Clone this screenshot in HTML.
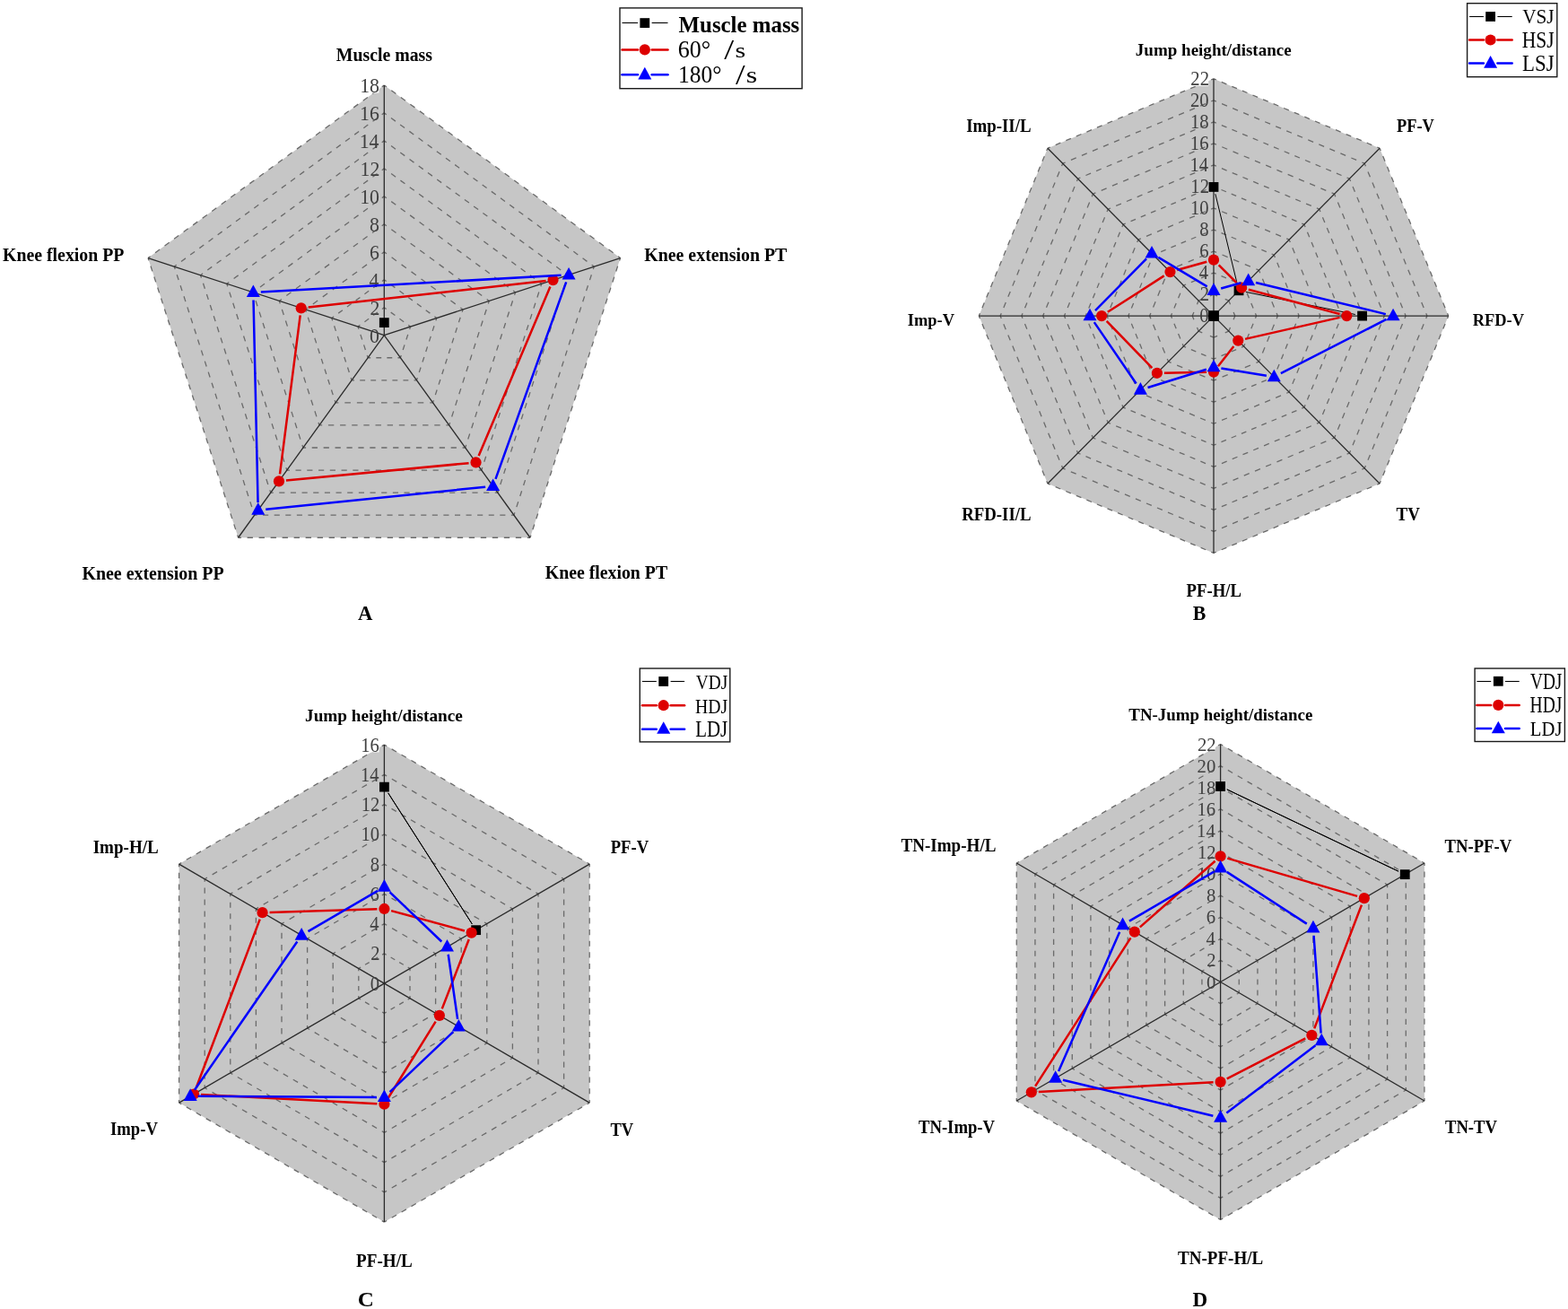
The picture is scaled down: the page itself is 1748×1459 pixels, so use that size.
<!DOCTYPE html>
<html><head><meta charset="utf-8"><title>Radar charts</title>
<style>
html,body{margin:0;padding:0;background:#fff;}
body{width:1748px;height:1459px;overflow:hidden;}
svg{display:block;}
.t{font-family:"Liberation Serif","Times New Roman",serif;fill:#404040;}
.lb{font-family:"Liberation Serif","Times New Roman",serif;font-weight:bold;fill:#000;}
.lr{font-family:"Liberation Serif","Times New Roman",serif;fill:#000;}
</style></head>
<body>
<svg width="1748" height="1459" viewBox="0 0 1748 1459">
<rect width="1748" height="1459" fill="#fff"/>
<polygon points="428.3,94.9 691.55,287.55 591,599.25 265.6,599.25 165.05,287.55" fill="#c6c6c6"/>
<path d="M428.3 342.72L457.55 364.13" fill="none" stroke="#6a6a6a" stroke-width="1.3" stroke-dasharray="5.86 6.22" stroke-dashoffset="2.93"/>
<path d="M457.55 364.13L446.38 398.76" fill="none" stroke="#6a6a6a" stroke-width="1.3" stroke-dasharray="5.88 6.25" stroke-dashoffset="2.94"/>
<path d="M446.38 398.76L410.22 398.76" fill="none" stroke="#6a6a6a" stroke-width="1.3" stroke-dasharray="5.85 6.21" stroke-dashoffset="2.92"/>
<path d="M410.22 398.76L399.05 364.13" fill="none" stroke="#6a6a6a" stroke-width="1.3" stroke-dasharray="5.88 6.25" stroke-dashoffset="2.94"/>
<path d="M399.05 364.13L428.3 342.72" fill="none" stroke="#6a6a6a" stroke-width="1.3" stroke-dasharray="5.86 6.22" stroke-dashoffset="2.93"/>
<path d="M428.3 311.74L486.8 354.55" fill="none" stroke="#6a6a6a" stroke-width="1.3" stroke-dasharray="5.86 6.22" stroke-dashoffset="2.93"/>
<path d="M486.8 354.55L464.46 423.82" fill="none" stroke="#6a6a6a" stroke-width="1.3" stroke-dasharray="5.88 6.25" stroke-dashoffset="2.94"/>
<path d="M464.46 423.82L392.14 423.82" fill="none" stroke="#6a6a6a" stroke-width="1.3" stroke-dasharray="5.85 6.21" stroke-dashoffset="2.92"/>
<path d="M392.14 423.82L369.8 354.55" fill="none" stroke="#6a6a6a" stroke-width="1.3" stroke-dasharray="5.88 6.25" stroke-dashoffset="2.94"/>
<path d="M369.8 354.55L428.3 311.74" fill="none" stroke="#6a6a6a" stroke-width="1.3" stroke-dasharray="5.86 6.22" stroke-dashoffset="2.93"/>
<path d="M428.3 280.77L516.05 344.98" fill="none" stroke="#6a6a6a" stroke-width="1.3" stroke-dasharray="6.59 7.00" stroke-dashoffset="3.30"/>
<path d="M516.05 344.98L482.53 448.88" fill="none" stroke="#6a6a6a" stroke-width="1.3" stroke-dasharray="5.88 6.25" stroke-dashoffset="2.94"/>
<path d="M482.53 448.88L374.07 448.88" fill="none" stroke="#6a6a6a" stroke-width="1.3" stroke-dasharray="6.58 6.98" stroke-dashoffset="3.29"/>
<path d="M374.07 448.88L340.55 344.98" fill="none" stroke="#6a6a6a" stroke-width="1.3" stroke-dasharray="5.88 6.25" stroke-dashoffset="2.94"/>
<path d="M340.55 344.98L428.3 280.77" fill="none" stroke="#6a6a6a" stroke-width="1.3" stroke-dasharray="6.59 7.00" stroke-dashoffset="3.30"/>
<path d="M428.3 249.79L545.3 335.41" fill="none" stroke="#6a6a6a" stroke-width="1.3" stroke-dasharray="6.39 6.79" stroke-dashoffset="3.20"/>
<path d="M545.3 335.41L500.61 473.95" fill="none" stroke="#6a6a6a" stroke-width="1.3" stroke-dasharray="6.42 6.82" stroke-dashoffset="3.21"/>
<path d="M500.61 473.95L355.99 473.95" fill="none" stroke="#6a6a6a" stroke-width="1.3" stroke-dasharray="6.38 6.77" stroke-dashoffset="3.19"/>
<path d="M355.99 473.95L311.3 335.41" fill="none" stroke="#6a6a6a" stroke-width="1.3" stroke-dasharray="6.42 6.82" stroke-dashoffset="3.21"/>
<path d="M311.3 335.41L428.3 249.79" fill="none" stroke="#6a6a6a" stroke-width="1.3" stroke-dasharray="6.39 6.79" stroke-dashoffset="3.20"/>
<path d="M428.3 218.81L574.55 325.84" fill="none" stroke="#6a6a6a" stroke-width="1.3" stroke-dasharray="6.28 6.67" stroke-dashoffset="3.14"/>
<path d="M574.55 325.84L518.69 499.01" fill="none" stroke="#6a6a6a" stroke-width="1.3" stroke-dasharray="6.30 6.69" stroke-dashoffset="3.15"/>
<path d="M518.69 499.01L337.91 499.01" fill="none" stroke="#6a6a6a" stroke-width="1.3" stroke-dasharray="6.26 6.65" stroke-dashoffset="3.13"/>
<path d="M337.91 499.01L282.05 325.84" fill="none" stroke="#6a6a6a" stroke-width="1.3" stroke-dasharray="6.30 6.69" stroke-dashoffset="3.15"/>
<path d="M282.05 325.84L428.3 218.81" fill="none" stroke="#6a6a6a" stroke-width="1.3" stroke-dasharray="6.28 6.67" stroke-dashoffset="3.14"/>
<path d="M428.3 187.83L603.8 316.26" fill="none" stroke="#6a6a6a" stroke-width="1.3" stroke-dasharray="6.20 6.59" stroke-dashoffset="3.10"/>
<path d="M603.8 316.26L536.77 524.07" fill="none" stroke="#6a6a6a" stroke-width="1.3" stroke-dasharray="6.23 6.61" stroke-dashoffset="3.11"/>
<path d="M536.77 524.07L319.83 524.07" fill="none" stroke="#6a6a6a" stroke-width="1.3" stroke-dasharray="6.19 6.57" stroke-dashoffset="3.09"/>
<path d="M319.83 524.07L252.8 316.26" fill="none" stroke="#6a6a6a" stroke-width="1.3" stroke-dasharray="6.23 6.61" stroke-dashoffset="3.11"/>
<path d="M252.8 316.26L428.3 187.83" fill="none" stroke="#6a6a6a" stroke-width="1.3" stroke-dasharray="6.20 6.59" stroke-dashoffset="3.10"/>
<path d="M428.3 156.86L633.05 306.69" fill="none" stroke="#6a6a6a" stroke-width="1.3" stroke-dasharray="6.15 6.53" stroke-dashoffset="3.08"/>
<path d="M633.05 306.69L554.84 549.13" fill="none" stroke="#6a6a6a" stroke-width="1.3" stroke-dasharray="6.18 6.56" stroke-dashoffset="3.09"/>
<path d="M554.84 549.13L301.76 549.13" fill="none" stroke="#6a6a6a" stroke-width="1.3" stroke-dasharray="6.14 6.52" stroke-dashoffset="3.07"/>
<path d="M301.76 549.13L223.55 306.69" fill="none" stroke="#6a6a6a" stroke-width="1.3" stroke-dasharray="6.18 6.56" stroke-dashoffset="3.09"/>
<path d="M223.55 306.69L428.3 156.86" fill="none" stroke="#6a6a6a" stroke-width="1.3" stroke-dasharray="6.15 6.53" stroke-dashoffset="3.08"/>
<path d="M428.3 125.88L662.3 297.12" fill="none" stroke="#6a6a6a" stroke-width="1.3" stroke-dasharray="6.11 6.49" stroke-dashoffset="3.06"/>
<path d="M662.3 297.12L572.92 574.19" fill="none" stroke="#6a6a6a" stroke-width="1.3" stroke-dasharray="6.14 6.52" stroke-dashoffset="3.07"/>
<path d="M572.92 574.19L283.68 574.19" fill="none" stroke="#6a6a6a" stroke-width="1.3" stroke-dasharray="6.10 6.48" stroke-dashoffset="3.05"/>
<path d="M283.68 574.19L194.3 297.12" fill="none" stroke="#6a6a6a" stroke-width="1.3" stroke-dasharray="6.14 6.52" stroke-dashoffset="3.07"/>
<path d="M194.3 297.12L428.3 125.88" fill="none" stroke="#6a6a6a" stroke-width="1.3" stroke-dasharray="6.11 6.49" stroke-dashoffset="3.06"/>
<path d="M428.3 94.9L691.55 287.55" fill="none" stroke="#6a6a6a" stroke-width="1.3" stroke-dasharray="6.33 6.72" stroke-dashoffset="3.16"/>
<path d="M691.55 287.55L591 599.25" fill="none" stroke="#6a6a6a" stroke-width="1.3" stroke-dasharray="6.11 6.49" stroke-dashoffset="3.05"/>
<path d="M591 599.25L265.6 599.25" fill="none" stroke="#6a6a6a" stroke-width="1.3" stroke-dasharray="6.31 6.70" stroke-dashoffset="3.16"/>
<path d="M265.6 599.25L165.05 287.55" fill="none" stroke="#6a6a6a" stroke-width="1.3" stroke-dasharray="6.11 6.49" stroke-dashoffset="3.05"/>
<path d="M165.05 287.55L428.3 94.9" fill="none" stroke="#6a6a6a" stroke-width="1.3" stroke-dasharray="6.33 6.72" stroke-dashoffset="3.16"/>
<rect x="401.57" y="85.83" width="20.93" height="17.73" fill="#fff"/>
<line x1="428.3" y1="373.7" x2="428.3" y2="94.9" stroke="#2a2a2a" stroke-width="1.3"/>
<line x1="428.3" y1="373.7" x2="691.55" y2="287.55" stroke="#2a2a2a" stroke-width="1.3"/>
<line x1="428.3" y1="373.7" x2="591" y2="599.25" stroke="#2a2a2a" stroke-width="1.3"/>
<line x1="428.3" y1="373.7" x2="265.6" y2="599.25" stroke="#2a2a2a" stroke-width="1.3"/>
<line x1="428.3" y1="373.7" x2="165.05" y2="287.55" stroke="#2a2a2a" stroke-width="1.3"/>
<text transform="translate(412.09 381.53) scale(0.915 1)" class="t" font-size="23.9">0</text>
<text transform="translate(412.47 350.55) scale(0.915 1)" class="t" font-size="23.9">2</text>
<text transform="translate(411.59 319.57) scale(0.915 1)" class="t" font-size="23.9">4</text>
<text transform="translate(411.92 288.59) scale(0.915 1)" class="t" font-size="23.9">6</text>
<text transform="translate(412.09 257.62) scale(0.915 1)" class="t" font-size="23.9">8</text>
<text transform="translate(401.15 226.64) scale(0.915 1)" class="t" font-size="23.9">10</text>
<text transform="translate(401.53 195.66) scale(0.915 1)" class="t" font-size="23.9">12</text>
<text transform="translate(400.66 164.68) scale(0.915 1)" class="t" font-size="23.9">14</text>
<text transform="translate(400.99 133.71) scale(0.915 1)" class="t" font-size="23.9">16</text>
<text transform="translate(401.15 102.73) scale(0.915 1)" class="t" font-size="23.9">18</text>
<rect x="422.9" y="354.21" width="10.8" height="10.8" fill="#000"/>
<path d="M613.41 319.47L533.65 508.05M522.57 516.18L318.94 535.59M311.99 528.41L334.71 351.34M343.67 342.52L608.57 312.99" fill="none" stroke="#dd0000" stroke-width="2.5" stroke-linejoin="round"/>
<circle cx="616.53" cy="312.1" r="6.1" fill="#dd0000"/>
<circle cx="530.53" cy="515.42" r="6.1" fill="#dd0000"/>
<circle cx="310.98" cy="536.35" r="6.1" fill="#dd0000"/>
<circle cx="335.72" cy="343.4" r="6.1" fill="#dd0000"/>
<path d="M631.21 314.36L552.47 533.86M541.14 542.72L296.2 567.69M287.56 560.06L282.53 334.43M290.83 325.46L625.59 306.83" fill="none" stroke="#0000ff" stroke-width="2.5" stroke-linejoin="round"/>
<path d="M634.08 297.92L641.58 311.52L626.58 311.52Z" fill="#0000ff"/>
<path d="M549.6 533.43L557.1 547.03L542.1 547.03Z" fill="#0000ff"/>
<path d="M287.75 560.12L295.25 573.72L280.25 573.72Z" fill="#0000ff"/>
<path d="M282.34 317.5L289.84 331.1L274.84 331.1Z" fill="#0000ff"/>
<polygon points="1353,87.8 1538.05,165.21 1614.7,352.1 1538.05,538.99 1353,616.4 1167.95,538.99 1091.3,352.1 1167.95,165.21" fill="#c6c6c6"/>
<path d="M1353 328.07L1369.82 335.11" fill="none" stroke="#6a6a6a" stroke-width="1.3" stroke-dasharray="8.84 9.39" stroke-dashoffset="4.42"/>
<path d="M1369.82 335.11L1376.79 352.1" fill="none" stroke="#6a6a6a" stroke-width="1.3" stroke-dasharray="8.91 9.46" stroke-dashoffset="4.45"/>
<path d="M1376.79 352.1L1369.82 369.09" fill="none" stroke="#6a6a6a" stroke-width="1.3" stroke-dasharray="8.91 9.46" stroke-dashoffset="4.45"/>
<path d="M1369.82 369.09L1353 376.13" fill="none" stroke="#6a6a6a" stroke-width="1.3" stroke-dasharray="8.84 9.39" stroke-dashoffset="4.42"/>
<path d="M1353 376.13L1336.18 369.09" fill="none" stroke="#6a6a6a" stroke-width="1.3" stroke-dasharray="8.84 9.39" stroke-dashoffset="4.42"/>
<path d="M1336.18 369.09L1329.21 352.1" fill="none" stroke="#6a6a6a" stroke-width="1.3" stroke-dasharray="8.91 9.46" stroke-dashoffset="4.45"/>
<path d="M1329.21 352.1L1336.18 335.11" fill="none" stroke="#6a6a6a" stroke-width="1.3" stroke-dasharray="8.91 9.46" stroke-dashoffset="4.45"/>
<path d="M1336.18 335.11L1353 328.07" fill="none" stroke="#6a6a6a" stroke-width="1.3" stroke-dasharray="8.84 9.39" stroke-dashoffset="4.42"/>
<path d="M1353 304.05L1386.65 318.12" fill="none" stroke="#6a6a6a" stroke-width="1.3" stroke-dasharray="5.90 6.26" stroke-dashoffset="2.95"/>
<path d="M1386.65 318.12L1400.58 352.1" fill="none" stroke="#6a6a6a" stroke-width="1.3" stroke-dasharray="5.94 6.30" stroke-dashoffset="2.97"/>
<path d="M1400.58 352.1L1386.65 386.08" fill="none" stroke="#6a6a6a" stroke-width="1.3" stroke-dasharray="5.94 6.30" stroke-dashoffset="2.97"/>
<path d="M1386.65 386.08L1353 400.15" fill="none" stroke="#6a6a6a" stroke-width="1.3" stroke-dasharray="5.90 6.26" stroke-dashoffset="2.95"/>
<path d="M1353 400.15L1319.35 386.08" fill="none" stroke="#6a6a6a" stroke-width="1.3" stroke-dasharray="5.90 6.26" stroke-dashoffset="2.95"/>
<path d="M1319.35 386.08L1305.42 352.1" fill="none" stroke="#6a6a6a" stroke-width="1.3" stroke-dasharray="5.94 6.30" stroke-dashoffset="2.97"/>
<path d="M1305.42 352.1L1319.35 318.12" fill="none" stroke="#6a6a6a" stroke-width="1.3" stroke-dasharray="5.94 6.30" stroke-dashoffset="2.97"/>
<path d="M1319.35 318.12L1353 304.05" fill="none" stroke="#6a6a6a" stroke-width="1.3" stroke-dasharray="5.90 6.26" stroke-dashoffset="2.95"/>
<path d="M1353 280.02L1403.47 301.13" fill="none" stroke="#6a6a6a" stroke-width="1.3" stroke-dasharray="6.63 7.04" stroke-dashoffset="3.32"/>
<path d="M1403.47 301.13L1424.37 352.1" fill="none" stroke="#6a6a6a" stroke-width="1.3" stroke-dasharray="6.68 7.09" stroke-dashoffset="3.34"/>
<path d="M1424.37 352.1L1403.47 403.07" fill="none" stroke="#6a6a6a" stroke-width="1.3" stroke-dasharray="6.68 7.09" stroke-dashoffset="3.34"/>
<path d="M1403.47 403.07L1353 424.18" fill="none" stroke="#6a6a6a" stroke-width="1.3" stroke-dasharray="6.63 7.04" stroke-dashoffset="3.32"/>
<path d="M1353 424.18L1302.53 403.07" fill="none" stroke="#6a6a6a" stroke-width="1.3" stroke-dasharray="6.63 7.04" stroke-dashoffset="3.32"/>
<path d="M1302.53 403.07L1281.63 352.1" fill="none" stroke="#6a6a6a" stroke-width="1.3" stroke-dasharray="6.68 7.09" stroke-dashoffset="3.34"/>
<path d="M1281.63 352.1L1302.53 301.13" fill="none" stroke="#6a6a6a" stroke-width="1.3" stroke-dasharray="6.68 7.09" stroke-dashoffset="3.34"/>
<path d="M1302.53 301.13L1353 280.02" fill="none" stroke="#6a6a6a" stroke-width="1.3" stroke-dasharray="6.63 7.04" stroke-dashoffset="3.32"/>
<path d="M1353 255.99L1420.29 284.14" fill="none" stroke="#6a6a6a" stroke-width="1.3" stroke-dasharray="5.90 6.26" stroke-dashoffset="2.95"/>
<path d="M1420.29 284.14L1448.16 352.1" fill="none" stroke="#6a6a6a" stroke-width="1.3" stroke-dasharray="5.94 6.30" stroke-dashoffset="2.97"/>
<path d="M1448.16 352.1L1420.29 420.06" fill="none" stroke="#6a6a6a" stroke-width="1.3" stroke-dasharray="5.94 6.30" stroke-dashoffset="2.97"/>
<path d="M1420.29 420.06L1353 448.21" fill="none" stroke="#6a6a6a" stroke-width="1.3" stroke-dasharray="5.90 6.26" stroke-dashoffset="2.95"/>
<path d="M1353 448.21L1285.71 420.06" fill="none" stroke="#6a6a6a" stroke-width="1.3" stroke-dasharray="5.90 6.26" stroke-dashoffset="2.95"/>
<path d="M1285.71 420.06L1257.84 352.1" fill="none" stroke="#6a6a6a" stroke-width="1.3" stroke-dasharray="5.94 6.30" stroke-dashoffset="2.97"/>
<path d="M1257.84 352.1L1285.71 284.14" fill="none" stroke="#6a6a6a" stroke-width="1.3" stroke-dasharray="5.94 6.30" stroke-dashoffset="2.97"/>
<path d="M1285.71 284.14L1353 255.99" fill="none" stroke="#6a6a6a" stroke-width="1.3" stroke-dasharray="5.90 6.26" stroke-dashoffset="2.95"/>
<path d="M1353 231.96L1437.11 267.15" fill="none" stroke="#6a6a6a" stroke-width="1.3" stroke-dasharray="6.32 6.71" stroke-dashoffset="3.16"/>
<path d="M1437.11 267.15L1471.95 352.1" fill="none" stroke="#6a6a6a" stroke-width="1.3" stroke-dasharray="6.36 6.76" stroke-dashoffset="3.18"/>
<path d="M1471.95 352.1L1437.11 437.05" fill="none" stroke="#6a6a6a" stroke-width="1.3" stroke-dasharray="6.36 6.76" stroke-dashoffset="3.18"/>
<path d="M1437.11 437.05L1353 472.24" fill="none" stroke="#6a6a6a" stroke-width="1.3" stroke-dasharray="6.32 6.71" stroke-dashoffset="3.16"/>
<path d="M1353 472.24L1268.89 437.05" fill="none" stroke="#6a6a6a" stroke-width="1.3" stroke-dasharray="6.32 6.71" stroke-dashoffset="3.16"/>
<path d="M1268.89 437.05L1234.05 352.1" fill="none" stroke="#6a6a6a" stroke-width="1.3" stroke-dasharray="6.36 6.76" stroke-dashoffset="3.18"/>
<path d="M1234.05 352.1L1268.89 267.15" fill="none" stroke="#6a6a6a" stroke-width="1.3" stroke-dasharray="6.36 6.76" stroke-dashoffset="3.18"/>
<path d="M1268.89 267.15L1353 231.96" fill="none" stroke="#6a6a6a" stroke-width="1.3" stroke-dasharray="6.32 6.71" stroke-dashoffset="3.16"/>
<path d="M1353 207.94L1453.94 250.16" fill="none" stroke="#6a6a6a" stroke-width="1.3" stroke-dasharray="5.90 6.26" stroke-dashoffset="2.95"/>
<path d="M1453.94 250.16L1495.75 352.1" fill="none" stroke="#6a6a6a" stroke-width="1.3" stroke-dasharray="5.94 6.30" stroke-dashoffset="2.97"/>
<path d="M1495.75 352.1L1453.94 454.04" fill="none" stroke="#6a6a6a" stroke-width="1.3" stroke-dasharray="5.94 6.30" stroke-dashoffset="2.97"/>
<path d="M1453.94 454.04L1353 496.26" fill="none" stroke="#6a6a6a" stroke-width="1.3" stroke-dasharray="5.90 6.26" stroke-dashoffset="2.95"/>
<path d="M1353 496.26L1252.06 454.04" fill="none" stroke="#6a6a6a" stroke-width="1.3" stroke-dasharray="5.90 6.26" stroke-dashoffset="2.95"/>
<path d="M1252.06 454.04L1210.25 352.1" fill="none" stroke="#6a6a6a" stroke-width="1.3" stroke-dasharray="5.94 6.30" stroke-dashoffset="2.97"/>
<path d="M1210.25 352.1L1252.06 250.16" fill="none" stroke="#6a6a6a" stroke-width="1.3" stroke-dasharray="5.94 6.30" stroke-dashoffset="2.97"/>
<path d="M1252.06 250.16L1353 207.94" fill="none" stroke="#6a6a6a" stroke-width="1.3" stroke-dasharray="5.90 6.26" stroke-dashoffset="2.95"/>
<path d="M1353 183.91L1470.76 233.17" fill="none" stroke="#6a6a6a" stroke-width="1.3" stroke-dasharray="6.19 6.57" stroke-dashoffset="3.10"/>
<path d="M1470.76 233.17L1519.54 352.1" fill="none" stroke="#6a6a6a" stroke-width="1.3" stroke-dasharray="6.23 6.62" stroke-dashoffset="3.12"/>
<path d="M1519.54 352.1L1470.76 471.03" fill="none" stroke="#6a6a6a" stroke-width="1.3" stroke-dasharray="6.23 6.62" stroke-dashoffset="3.12"/>
<path d="M1470.76 471.03L1353 520.29" fill="none" stroke="#6a6a6a" stroke-width="1.3" stroke-dasharray="6.19 6.57" stroke-dashoffset="3.10"/>
<path d="M1353 520.29L1235.24 471.03" fill="none" stroke="#6a6a6a" stroke-width="1.3" stroke-dasharray="6.19 6.57" stroke-dashoffset="3.10"/>
<path d="M1235.24 471.03L1186.46 352.1" fill="none" stroke="#6a6a6a" stroke-width="1.3" stroke-dasharray="6.23 6.62" stroke-dashoffset="3.12"/>
<path d="M1186.46 352.1L1235.24 233.17" fill="none" stroke="#6a6a6a" stroke-width="1.3" stroke-dasharray="6.23 6.62" stroke-dashoffset="3.12"/>
<path d="M1235.24 233.17L1353 183.91" fill="none" stroke="#6a6a6a" stroke-width="1.3" stroke-dasharray="6.19 6.57" stroke-dashoffset="3.10"/>
<path d="M1353 159.88L1487.58 216.18" fill="none" stroke="#6a6a6a" stroke-width="1.3" stroke-dasharray="6.43 6.83" stroke-dashoffset="3.22"/>
<path d="M1487.58 216.18L1543.33 352.1" fill="none" stroke="#6a6a6a" stroke-width="1.3" stroke-dasharray="6.48 6.88" stroke-dashoffset="3.24"/>
<path d="M1543.33 352.1L1487.58 488.02" fill="none" stroke="#6a6a6a" stroke-width="1.3" stroke-dasharray="6.48 6.88" stroke-dashoffset="3.24"/>
<path d="M1487.58 488.02L1353 544.32" fill="none" stroke="#6a6a6a" stroke-width="1.3" stroke-dasharray="6.43 6.83" stroke-dashoffset="3.22"/>
<path d="M1353 544.32L1218.42 488.02" fill="none" stroke="#6a6a6a" stroke-width="1.3" stroke-dasharray="6.43 6.83" stroke-dashoffset="3.22"/>
<path d="M1218.42 488.02L1162.67 352.1" fill="none" stroke="#6a6a6a" stroke-width="1.3" stroke-dasharray="6.48 6.88" stroke-dashoffset="3.24"/>
<path d="M1162.67 352.1L1218.42 216.18" fill="none" stroke="#6a6a6a" stroke-width="1.3" stroke-dasharray="6.48 6.88" stroke-dashoffset="3.24"/>
<path d="M1218.42 216.18L1353 159.88" fill="none" stroke="#6a6a6a" stroke-width="1.3" stroke-dasharray="6.43 6.83" stroke-dashoffset="3.22"/>
<path d="M1353 135.85L1504.4 199.19" fill="none" stroke="#6a6a6a" stroke-width="1.3" stroke-dasharray="6.12 6.50" stroke-dashoffset="3.06"/>
<path d="M1504.4 199.19L1567.12 352.1" fill="none" stroke="#6a6a6a" stroke-width="1.3" stroke-dasharray="6.17 6.55" stroke-dashoffset="3.08"/>
<path d="M1567.12 352.1L1504.4 505.01" fill="none" stroke="#6a6a6a" stroke-width="1.3" stroke-dasharray="6.17 6.55" stroke-dashoffset="3.08"/>
<path d="M1504.4 505.01L1353 568.35" fill="none" stroke="#6a6a6a" stroke-width="1.3" stroke-dasharray="6.12 6.50" stroke-dashoffset="3.06"/>
<path d="M1353 568.35L1201.6 505.01" fill="none" stroke="#6a6a6a" stroke-width="1.3" stroke-dasharray="6.12 6.50" stroke-dashoffset="3.06"/>
<path d="M1201.6 505.01L1138.88 352.1" fill="none" stroke="#6a6a6a" stroke-width="1.3" stroke-dasharray="6.17 6.55" stroke-dashoffset="3.08"/>
<path d="M1138.88 352.1L1201.6 199.19" fill="none" stroke="#6a6a6a" stroke-width="1.3" stroke-dasharray="6.17 6.55" stroke-dashoffset="3.08"/>
<path d="M1201.6 199.19L1353 135.85" fill="none" stroke="#6a6a6a" stroke-width="1.3" stroke-dasharray="6.12 6.50" stroke-dashoffset="3.06"/>
<path d="M1353 111.83L1521.23 182.2" fill="none" stroke="#6a6a6a" stroke-width="1.3" stroke-dasharray="6.32 6.71" stroke-dashoffset="3.16"/>
<path d="M1521.23 182.2L1590.91 352.1" fill="none" stroke="#6a6a6a" stroke-width="1.3" stroke-dasharray="6.36 6.76" stroke-dashoffset="3.18"/>
<path d="M1590.91 352.1L1521.23 522" fill="none" stroke="#6a6a6a" stroke-width="1.3" stroke-dasharray="6.36 6.76" stroke-dashoffset="3.18"/>
<path d="M1521.23 522L1353 592.37" fill="none" stroke="#6a6a6a" stroke-width="1.3" stroke-dasharray="6.32 6.71" stroke-dashoffset="3.16"/>
<path d="M1353 592.37L1184.77 522" fill="none" stroke="#6a6a6a" stroke-width="1.3" stroke-dasharray="6.32 6.71" stroke-dashoffset="3.16"/>
<path d="M1184.77 522L1115.09 352.1" fill="none" stroke="#6a6a6a" stroke-width="1.3" stroke-dasharray="6.36 6.76" stroke-dashoffset="3.18"/>
<path d="M1115.09 352.1L1184.77 182.2" fill="none" stroke="#6a6a6a" stroke-width="1.3" stroke-dasharray="6.36 6.76" stroke-dashoffset="3.18"/>
<path d="M1184.77 182.2L1353 111.83" fill="none" stroke="#6a6a6a" stroke-width="1.3" stroke-dasharray="6.32 6.71" stroke-dashoffset="3.16"/>
<path d="M1353 87.8L1538.05 165.21" fill="none" stroke="#6a6a6a" stroke-width="1.3" stroke-dasharray="6.08 6.46" stroke-dashoffset="3.04"/>
<path d="M1538.05 165.21L1614.7 352.1" fill="none" stroke="#6a6a6a" stroke-width="1.3" stroke-dasharray="6.12 6.50" stroke-dashoffset="3.06"/>
<path d="M1614.7 352.1L1538.05 538.99" fill="none" stroke="#6a6a6a" stroke-width="1.3" stroke-dasharray="6.12 6.50" stroke-dashoffset="3.06"/>
<path d="M1538.05 538.99L1353 616.4" fill="none" stroke="#6a6a6a" stroke-width="1.3" stroke-dasharray="6.08 6.46" stroke-dashoffset="3.04"/>
<path d="M1353 616.4L1167.95 538.99" fill="none" stroke="#6a6a6a" stroke-width="1.3" stroke-dasharray="6.08 6.46" stroke-dashoffset="3.04"/>
<path d="M1167.95 538.99L1091.3 352.1" fill="none" stroke="#6a6a6a" stroke-width="1.3" stroke-dasharray="6.12 6.50" stroke-dashoffset="3.06"/>
<path d="M1091.3 352.1L1167.95 165.21" fill="none" stroke="#6a6a6a" stroke-width="1.3" stroke-dasharray="6.12 6.50" stroke-dashoffset="3.06"/>
<path d="M1167.95 165.21L1353 87.8" fill="none" stroke="#6a6a6a" stroke-width="1.3" stroke-dasharray="6.08 6.46" stroke-dashoffset="3.04"/>
<rect x="1326.77" y="79.26" width="20.43" height="16.51" fill="#fff"/>
<line x1="1353" y1="352.1" x2="1353" y2="87.8" stroke="#2a2a2a" stroke-width="1.3"/>
<line x1="1353" y1="352.1" x2="1538.05" y2="165.21" stroke="#2a2a2a" stroke-width="1.3"/>
<line x1="1353" y1="352.1" x2="1614.7" y2="352.1" stroke="#2a2a2a" stroke-width="1.3"/>
<line x1="1353" y1="352.1" x2="1538.05" y2="538.99" stroke="#2a2a2a" stroke-width="1.3"/>
<line x1="1353" y1="352.1" x2="1353" y2="616.4" stroke="#2a2a2a" stroke-width="1.3"/>
<line x1="1353" y1="352.1" x2="1167.95" y2="538.99" stroke="#2a2a2a" stroke-width="1.3"/>
<line x1="1353" y1="352.1" x2="1091.3" y2="352.1" stroke="#2a2a2a" stroke-width="1.3"/>
<line x1="1353" y1="352.1" x2="1167.95" y2="165.21" stroke="#2a2a2a" stroke-width="1.3"/>
<text transform="translate(1337.33 359.47) scale(0.92 1)" class="t" font-size="22.5">0</text>
<text transform="translate(1337.69 335.44) scale(0.92 1)" class="t" font-size="22.5">2</text>
<text transform="translate(1336.86 311.41) scale(0.92 1)" class="t" font-size="22.5">4</text>
<text transform="translate(1337.17 287.39) scale(0.92 1)" class="t" font-size="22.5">6</text>
<text transform="translate(1337.33 263.36) scale(0.92 1)" class="t" font-size="22.5">8</text>
<text transform="translate(1326.98 239.33) scale(0.92 1)" class="t" font-size="22.5">10</text>
<text transform="translate(1327.34 215.31) scale(0.92 1)" class="t" font-size="22.5">12</text>
<text transform="translate(1326.51 191.28) scale(0.92 1)" class="t" font-size="22.5">14</text>
<text transform="translate(1326.82 167.25) scale(0.92 1)" class="t" font-size="22.5">16</text>
<text transform="translate(1326.98 143.22) scale(0.92 1)" class="t" font-size="22.5">18</text>
<text transform="translate(1326.98 119.2) scale(0.92 1)" class="t" font-size="22.5">20</text>
<text transform="translate(1327.34 95.17) scale(0.92 1)" class="t" font-size="22.5">22</text>
<path d="M1354.89 216.19L1379.12 316.04M1388.85 325.42L1510.75 350.49" fill="none" stroke="#000" stroke-width="1.0" stroke-linejoin="round"/>
<rect x="1347.6" y="203.02" width="10.8" height="10.8" fill="#000"/>
<rect x="1375.61" y="318.41" width="10.8" height="10.8" fill="#000"/>
<rect x="1513.18" y="346.7" width="10.8" height="10.8" fill="#000"/>
<rect x="1347.6" y="346.7" width="10.8" height="10.8" fill="#000"/>
<rect x="1347.6" y="346.7" width="10.8" height="10.8" fill="#000"/>
<rect x="1347.6" y="346.7" width="10.8" height="10.8" fill="#000"/>
<rect x="1347.6" y="346.7" width="10.8" height="10.8" fill="#000"/>
<rect x="1347.6" y="346.7" width="10.8" height="10.8" fill="#000"/>
<path d="M1358.66 295.28L1378.46 315.02M1391.85 322.74L1493.61 350.03M1493.54 353.87L1388.05 377.85M1375.33 385.93L1357.92 408.26M1345 414.73L1297.91 415.65M1284.34 410.07L1233.67 357.84M1234.83 347.78L1297.73 307.41M1312.18 300.95L1345.29 291.77" fill="none" stroke="#dd0000" stroke-width="2.5" stroke-linejoin="round"/>
<circle cx="1353" cy="289.63" r="6.1" fill="#dd0000"/>
<circle cx="1384.12" cy="320.67" r="6.1" fill="#dd0000"/>
<circle cx="1501.34" cy="352.1" r="6.1" fill="#dd0000"/>
<circle cx="1380.25" cy="379.62" r="6.1" fill="#dd0000"/>
<circle cx="1353" cy="414.57" r="6.1" fill="#dd0000"/>
<circle cx="1289.91" cy="415.81" r="6.1" fill="#dd0000"/>
<circle cx="1228.1" cy="352.1" r="6.1" fill="#dd0000"/>
<circle cx="1304.47" cy="303.08" r="6.1" fill="#dd0000"/>
<path d="M1361.19 321.48L1383.5 315.29M1399.95 315.02L1544.82 350.1M1545.51 355.97L1427.86 416.19M1411.9 418.7L1361.39 410.52M1344.88 411.69L1279.53 431.98M1266.61 427.49L1219.81 359.11M1221 346.06L1278.04 288.48M1291.32 286.81L1345.71 319.38" fill="none" stroke="#0000ff" stroke-width="2.5" stroke-linejoin="round"/>
<path d="M1353 315.32L1360.5 328.92L1345.5 328.92Z" fill="#0000ff"/>
<path d="M1391.69 304.59L1399.19 318.19L1384.19 318.19Z" fill="#0000ff"/>
<path d="M1553.08 343.67L1560.58 357.27L1545.58 357.27Z" fill="#0000ff"/>
<path d="M1420.29 411.63L1427.79 425.23L1412.79 425.23Z" fill="#0000ff"/>
<path d="M1353 400.73L1360.5 414.33L1345.5 414.33Z" fill="#0000ff"/>
<path d="M1271.41 426.07L1278.91 439.67L1263.91 439.67Z" fill="#0000ff"/>
<path d="M1215.01 343.67L1222.51 357.27L1207.51 357.27Z" fill="#0000ff"/>
<path d="M1284.03 274.01L1291.53 287.61L1276.53 287.61Z" fill="#0000ff"/>
<polygon points="428.4,830.1 657.2,963.1 657.2,1229.1 428.4,1362.1 199.6,1229.1 199.6,963.1" fill="#c6c6c6"/>
<path d="M428.4 1062.85L457 1079.47" fill="none" stroke="#6a6a6a" stroke-width="1.3" stroke-dasharray="5.35 5.68" stroke-dashoffset="2.67"/>
<path d="M457 1079.47L457 1112.72" fill="none" stroke="#6a6a6a" stroke-width="1.3" stroke-dasharray="5.38 5.71" stroke-dashoffset="2.69"/>
<path d="M457 1112.72L428.4 1129.35" fill="none" stroke="#6a6a6a" stroke-width="1.3" stroke-dasharray="5.35 5.68" stroke-dashoffset="2.67"/>
<path d="M428.4 1129.35L399.8 1112.72" fill="none" stroke="#6a6a6a" stroke-width="1.3" stroke-dasharray="5.35 5.68" stroke-dashoffset="2.67"/>
<path d="M399.8 1112.72L399.8 1079.47" fill="none" stroke="#6a6a6a" stroke-width="1.3" stroke-dasharray="5.38 5.71" stroke-dashoffset="2.69"/>
<path d="M399.8 1079.47L428.4 1062.85" fill="none" stroke="#6a6a6a" stroke-width="1.3" stroke-dasharray="5.35 5.68" stroke-dashoffset="2.67"/>
<path d="M428.4 1029.6L485.6 1062.85" fill="none" stroke="#6a6a6a" stroke-width="1.3" stroke-dasharray="6.42 6.81" stroke-dashoffset="3.21"/>
<path d="M485.6 1062.85L485.6 1129.35" fill="none" stroke="#6a6a6a" stroke-width="1.3" stroke-dasharray="6.45 6.85" stroke-dashoffset="3.23"/>
<path d="M485.6 1129.35L428.4 1162.6" fill="none" stroke="#6a6a6a" stroke-width="1.3" stroke-dasharray="6.42 6.81" stroke-dashoffset="3.21"/>
<path d="M428.4 1162.6L371.2 1129.35" fill="none" stroke="#6a6a6a" stroke-width="1.3" stroke-dasharray="6.42 6.81" stroke-dashoffset="3.21"/>
<path d="M371.2 1129.35L371.2 1062.85" fill="none" stroke="#6a6a6a" stroke-width="1.3" stroke-dasharray="6.45 6.85" stroke-dashoffset="3.23"/>
<path d="M371.2 1062.85L428.4 1029.6" fill="none" stroke="#6a6a6a" stroke-width="1.3" stroke-dasharray="6.42 6.81" stroke-dashoffset="3.21"/>
<path d="M428.4 996.35L514.2 1046.22" fill="none" stroke="#6a6a6a" stroke-width="1.3" stroke-dasharray="6.02 6.39" stroke-dashoffset="3.01"/>
<path d="M514.2 1046.22L514.2 1145.97" fill="none" stroke="#6a6a6a" stroke-width="1.3" stroke-dasharray="6.05 6.42" stroke-dashoffset="3.02"/>
<path d="M514.2 1145.97L428.4 1195.85" fill="none" stroke="#6a6a6a" stroke-width="1.3" stroke-dasharray="6.02 6.39" stroke-dashoffset="3.01"/>
<path d="M428.4 1195.85L342.6 1145.97" fill="none" stroke="#6a6a6a" stroke-width="1.3" stroke-dasharray="6.02 6.39" stroke-dashoffset="3.01"/>
<path d="M342.6 1145.97L342.6 1046.22" fill="none" stroke="#6a6a6a" stroke-width="1.3" stroke-dasharray="6.05 6.42" stroke-dashoffset="3.02"/>
<path d="M342.6 1046.22L428.4 996.35" fill="none" stroke="#6a6a6a" stroke-width="1.3" stroke-dasharray="6.02 6.39" stroke-dashoffset="3.01"/>
<path d="M428.4 963.1L542.8 1029.6" fill="none" stroke="#6a6a6a" stroke-width="1.3" stroke-dasharray="6.42 6.81" stroke-dashoffset="3.21"/>
<path d="M542.8 1029.6L542.8 1162.6" fill="none" stroke="#6a6a6a" stroke-width="1.3" stroke-dasharray="6.45 6.85" stroke-dashoffset="3.23"/>
<path d="M542.8 1162.6L428.4 1229.1" fill="none" stroke="#6a6a6a" stroke-width="1.3" stroke-dasharray="6.42 6.81" stroke-dashoffset="3.21"/>
<path d="M428.4 1229.1L314 1162.6" fill="none" stroke="#6a6a6a" stroke-width="1.3" stroke-dasharray="6.42 6.81" stroke-dashoffset="3.21"/>
<path d="M314 1162.6L314 1029.6" fill="none" stroke="#6a6a6a" stroke-width="1.3" stroke-dasharray="6.45 6.85" stroke-dashoffset="3.23"/>
<path d="M314 1029.6L428.4 963.1" fill="none" stroke="#6a6a6a" stroke-width="1.3" stroke-dasharray="6.42 6.81" stroke-dashoffset="3.21"/>
<path d="M428.4 929.85L571.4 1012.97" fill="none" stroke="#6a6a6a" stroke-width="1.3" stroke-dasharray="6.17 6.55" stroke-dashoffset="3.09"/>
<path d="M571.4 1012.97L571.4 1179.22" fill="none" stroke="#6a6a6a" stroke-width="1.3" stroke-dasharray="6.20 6.59" stroke-dashoffset="3.10"/>
<path d="M571.4 1179.22L428.4 1262.35" fill="none" stroke="#6a6a6a" stroke-width="1.3" stroke-dasharray="6.17 6.55" stroke-dashoffset="3.09"/>
<path d="M428.4 1262.35L285.4 1179.22" fill="none" stroke="#6a6a6a" stroke-width="1.3" stroke-dasharray="6.17 6.55" stroke-dashoffset="3.09"/>
<path d="M285.4 1179.22L285.4 1012.97" fill="none" stroke="#6a6a6a" stroke-width="1.3" stroke-dasharray="6.20 6.59" stroke-dashoffset="3.10"/>
<path d="M285.4 1012.97L428.4 929.85" fill="none" stroke="#6a6a6a" stroke-width="1.3" stroke-dasharray="6.17 6.55" stroke-dashoffset="3.09"/>
<path d="M428.4 896.6L600 996.35" fill="none" stroke="#6a6a6a" stroke-width="1.3" stroke-dasharray="6.02 6.39" stroke-dashoffset="3.01"/>
<path d="M600 996.35L600 1195.85" fill="none" stroke="#6a6a6a" stroke-width="1.3" stroke-dasharray="6.05 6.42" stroke-dashoffset="3.02"/>
<path d="M600 1195.85L428.4 1295.6" fill="none" stroke="#6a6a6a" stroke-width="1.3" stroke-dasharray="6.02 6.39" stroke-dashoffset="3.01"/>
<path d="M428.4 1295.6L256.8 1195.85" fill="none" stroke="#6a6a6a" stroke-width="1.3" stroke-dasharray="6.02 6.39" stroke-dashoffset="3.01"/>
<path d="M256.8 1195.85L256.8 996.35" fill="none" stroke="#6a6a6a" stroke-width="1.3" stroke-dasharray="6.05 6.42" stroke-dashoffset="3.02"/>
<path d="M256.8 996.35L428.4 896.6" fill="none" stroke="#6a6a6a" stroke-width="1.3" stroke-dasharray="6.02 6.39" stroke-dashoffset="3.01"/>
<path d="M428.4 863.35L628.6 979.72" fill="none" stroke="#6a6a6a" stroke-width="1.3" stroke-dasharray="6.24 6.63" stroke-dashoffset="3.12"/>
<path d="M628.6 979.72L628.6 1212.47" fill="none" stroke="#6a6a6a" stroke-width="1.3" stroke-dasharray="6.27 6.66" stroke-dashoffset="3.14"/>
<path d="M628.6 1212.47L428.4 1328.85" fill="none" stroke="#6a6a6a" stroke-width="1.3" stroke-dasharray="6.24 6.63" stroke-dashoffset="3.12"/>
<path d="M428.4 1328.85L228.2 1212.47" fill="none" stroke="#6a6a6a" stroke-width="1.3" stroke-dasharray="6.24 6.63" stroke-dashoffset="3.12"/>
<path d="M228.2 1212.47L228.2 979.72" fill="none" stroke="#6a6a6a" stroke-width="1.3" stroke-dasharray="6.27 6.66" stroke-dashoffset="3.14"/>
<path d="M228.2 979.72L428.4 863.35" fill="none" stroke="#6a6a6a" stroke-width="1.3" stroke-dasharray="6.24 6.63" stroke-dashoffset="3.12"/>
<path d="M428.4 830.1L657.2 963.1" fill="none" stroke="#6a6a6a" stroke-width="1.3" stroke-dasharray="6.11 6.49" stroke-dashoffset="3.06"/>
<path d="M657.2 963.1L657.2 1229.1" fill="none" stroke="#6a6a6a" stroke-width="1.3" stroke-dasharray="6.14 6.52" stroke-dashoffset="3.07"/>
<path d="M657.2 1229.1L428.4 1362.1" fill="none" stroke="#6a6a6a" stroke-width="1.3" stroke-dasharray="6.11 6.49" stroke-dashoffset="3.06"/>
<path d="M428.4 1362.1L199.6 1229.1" fill="none" stroke="#6a6a6a" stroke-width="1.3" stroke-dasharray="6.11 6.49" stroke-dashoffset="3.06"/>
<path d="M199.6 1229.1L199.6 963.1" fill="none" stroke="#6a6a6a" stroke-width="1.3" stroke-dasharray="6.14 6.52" stroke-dashoffset="3.07"/>
<path d="M199.6 963.1L428.4 830.1" fill="none" stroke="#6a6a6a" stroke-width="1.3" stroke-dasharray="6.11 6.49" stroke-dashoffset="3.06"/>
<rect x="402.61" y="821.43" width="19.99" height="17" fill="#fff"/>
<line x1="428.4" y1="1096.1" x2="428.4" y2="830.1" stroke="#2a2a2a" stroke-width="1.3"/>
<line x1="428.4" y1="1096.1" x2="657.2" y2="963.1" stroke="#2a2a2a" stroke-width="1.3"/>
<line x1="428.4" y1="1096.1" x2="657.2" y2="1229.1" stroke="#2a2a2a" stroke-width="1.3"/>
<line x1="428.4" y1="1096.1" x2="428.4" y2="1362.1" stroke="#2a2a2a" stroke-width="1.3"/>
<line x1="428.4" y1="1096.1" x2="199.6" y2="1229.1" stroke="#2a2a2a" stroke-width="1.3"/>
<line x1="428.4" y1="1096.1" x2="199.6" y2="963.1" stroke="#2a2a2a" stroke-width="1.3"/>
<text transform="translate(412.77 1103.6) scale(0.9 1)" class="t" font-size="22.9">0</text>
<text transform="translate(413.13 1070.35) scale(0.9 1)" class="t" font-size="22.9">2</text>
<text transform="translate(412.3 1037.1) scale(0.9 1)" class="t" font-size="22.9">4</text>
<text transform="translate(412.61 1003.85) scale(0.9 1)" class="t" font-size="22.9">6</text>
<text transform="translate(412.77 970.6) scale(0.9 1)" class="t" font-size="22.9">8</text>
<text transform="translate(402.46 937.35) scale(0.9 1)" class="t" font-size="22.9">10</text>
<text transform="translate(402.82 904.1) scale(0.9 1)" class="t" font-size="22.9">12</text>
<text transform="translate(402 870.85) scale(0.9 1)" class="t" font-size="22.9">14</text>
<text transform="translate(402.31 837.6) scale(0.9 1)" class="t" font-size="22.9">16</text>
<path d="M432.72 883.88L526.33 1029.93M526.33 1029.93L432.72 883.88" fill="none" stroke="#000" stroke-width="1.0" stroke-linejoin="round"/>
<rect x="423" y="871.75" width="10.8" height="10.8" fill="#000"/>
<rect x="525.25" y="1031.27" width="10.8" height="10.8" fill="#000"/>
<path d="M436.12 1015.09L517.93 1037.46M522.75 1047.03L492.78 1124.38M485.67 1138.64L432.62 1223.97M420.41 1230.34L224.03 1219.96M218.87 1212.06L289.72 1024.61M300.54 1016.89L420.4 1013.22" fill="none" stroke="#dd0000" stroke-width="2.5" stroke-linejoin="round"/>
<circle cx="428.4" cy="1012.97" r="6.1" fill="#dd0000"/>
<circle cx="525.64" cy="1039.57" r="6.1" fill="#dd0000"/>
<circle cx="489.89" cy="1131.84" r="6.1" fill="#dd0000"/>
<circle cx="428.4" cy="1230.76" r="6.1" fill="#dd0000"/>
<circle cx="216.04" cy="1219.54" r="6.1" fill="#dd0000"/>
<circle cx="292.55" cy="1017.13" r="6.1" fill="#dd0000"/>
<path d="M434.55 994.4L492.32 1049.5M499.69 1063.78L510.12 1135.9M505.17 1150.16L434.57 1217.1M419.9 1222.9L220.68 1221.83M217.01 1214.79L331.33 1049.48M343.5 1038.19L421.06 992.83" fill="none" stroke="#0000ff" stroke-width="2.5" stroke-linejoin="round"/>
<path d="M428.4 980.1L435.9 993.7L420.9 993.7Z" fill="#0000ff"/>
<path d="M498.47 1046.94L505.97 1060.54L490.97 1060.54Z" fill="#0000ff"/>
<path d="M511.34 1135.88L518.84 1149.48L503.84 1149.48Z" fill="#0000ff"/>
<path d="M428.4 1214.52L435.9 1228.12L420.9 1228.12Z" fill="#0000ff"/>
<path d="M212.18 1213.35L219.68 1226.95L204.68 1226.95Z" fill="#0000ff"/>
<path d="M336.16 1034.05L343.66 1047.65L328.66 1047.65Z" fill="#0000ff"/>
<polygon points="1360.6,829.5 1587.93,962 1587.93,1227 1360.6,1359.5 1133.27,1227 1133.27,962" fill="#c6c6c6"/>
<path d="M1360.6 1070.41L1381.27 1082.45" fill="none" stroke="#6a6a6a" stroke-width="1.3" stroke-dasharray="5.80 6.16" stroke-dashoffset="2.90"/>
<path d="M1381.27 1082.45L1381.27 1106.55" fill="none" stroke="#6a6a6a" stroke-width="1.3" stroke-dasharray="5.84 6.20" stroke-dashoffset="2.92"/>
<path d="M1381.27 1106.55L1360.6 1118.59" fill="none" stroke="#6a6a6a" stroke-width="1.3" stroke-dasharray="5.80 6.16" stroke-dashoffset="2.90"/>
<path d="M1360.6 1118.59L1339.93 1106.55" fill="none" stroke="#6a6a6a" stroke-width="1.3" stroke-dasharray="5.80 6.16" stroke-dashoffset="2.90"/>
<path d="M1339.93 1106.55L1339.93 1082.45" fill="none" stroke="#6a6a6a" stroke-width="1.3" stroke-dasharray="5.84 6.20" stroke-dashoffset="2.92"/>
<path d="M1339.93 1082.45L1360.6 1070.41" fill="none" stroke="#6a6a6a" stroke-width="1.3" stroke-dasharray="5.80 6.16" stroke-dashoffset="2.90"/>
<path d="M1360.6 1046.32L1401.93 1070.41" fill="none" stroke="#6a6a6a" stroke-width="1.3" stroke-dasharray="5.80 6.16" stroke-dashoffset="2.90"/>
<path d="M1401.93 1070.41L1401.93 1118.59" fill="none" stroke="#6a6a6a" stroke-width="1.3" stroke-dasharray="5.84 6.20" stroke-dashoffset="2.92"/>
<path d="M1401.93 1118.59L1360.6 1142.68" fill="none" stroke="#6a6a6a" stroke-width="1.3" stroke-dasharray="5.80 6.16" stroke-dashoffset="2.90"/>
<path d="M1360.6 1142.68L1319.27 1118.59" fill="none" stroke="#6a6a6a" stroke-width="1.3" stroke-dasharray="5.80 6.16" stroke-dashoffset="2.90"/>
<path d="M1319.27 1118.59L1319.27 1070.41" fill="none" stroke="#6a6a6a" stroke-width="1.3" stroke-dasharray="5.84 6.20" stroke-dashoffset="2.92"/>
<path d="M1319.27 1070.41L1360.6 1046.32" fill="none" stroke="#6a6a6a" stroke-width="1.3" stroke-dasharray="5.80 6.16" stroke-dashoffset="2.90"/>
<path d="M1360.6 1022.23L1422.6 1058.36" fill="none" stroke="#6a6a6a" stroke-width="1.3" stroke-dasharray="5.80 6.16" stroke-dashoffset="2.90"/>
<path d="M1422.6 1058.36L1422.6 1130.64" fill="none" stroke="#6a6a6a" stroke-width="1.3" stroke-dasharray="5.84 6.20" stroke-dashoffset="2.92"/>
<path d="M1422.6 1130.64L1360.6 1166.77" fill="none" stroke="#6a6a6a" stroke-width="1.3" stroke-dasharray="5.80 6.16" stroke-dashoffset="2.90"/>
<path d="M1360.6 1166.77L1298.6 1130.64" fill="none" stroke="#6a6a6a" stroke-width="1.3" stroke-dasharray="5.80 6.16" stroke-dashoffset="2.90"/>
<path d="M1298.6 1130.64L1298.6 1058.36" fill="none" stroke="#6a6a6a" stroke-width="1.3" stroke-dasharray="5.84 6.20" stroke-dashoffset="2.92"/>
<path d="M1298.6 1058.36L1360.6 1022.23" fill="none" stroke="#6a6a6a" stroke-width="1.3" stroke-dasharray="5.80 6.16" stroke-dashoffset="2.90"/>
<path d="M1360.6 998.14L1443.27 1046.32" fill="none" stroke="#6a6a6a" stroke-width="1.3" stroke-dasharray="6.63 7.04" stroke-dashoffset="3.31"/>
<path d="M1443.27 1046.32L1443.27 1142.68" fill="none" stroke="#6a6a6a" stroke-width="1.3" stroke-dasharray="5.84 6.20" stroke-dashoffset="2.92"/>
<path d="M1443.27 1142.68L1360.6 1190.86" fill="none" stroke="#6a6a6a" stroke-width="1.3" stroke-dasharray="6.63 7.04" stroke-dashoffset="3.31"/>
<path d="M1360.6 1190.86L1277.93 1142.68" fill="none" stroke="#6a6a6a" stroke-width="1.3" stroke-dasharray="6.63 7.04" stroke-dashoffset="3.31"/>
<path d="M1277.93 1142.68L1277.93 1046.32" fill="none" stroke="#6a6a6a" stroke-width="1.3" stroke-dasharray="5.84 6.20" stroke-dashoffset="2.92"/>
<path d="M1277.93 1046.32L1360.6 998.14" fill="none" stroke="#6a6a6a" stroke-width="1.3" stroke-dasharray="6.63 7.04" stroke-dashoffset="3.31"/>
<path d="M1360.6 974.05L1463.93 1034.27" fill="none" stroke="#6a6a6a" stroke-width="1.3" stroke-dasharray="6.45 6.84" stroke-dashoffset="3.22"/>
<path d="M1463.93 1034.27L1463.93 1154.73" fill="none" stroke="#6a6a6a" stroke-width="1.3" stroke-dasharray="6.49 6.89" stroke-dashoffset="3.25"/>
<path d="M1463.93 1154.73L1360.6 1214.95" fill="none" stroke="#6a6a6a" stroke-width="1.3" stroke-dasharray="6.45 6.84" stroke-dashoffset="3.22"/>
<path d="M1360.6 1214.95L1257.27 1154.73" fill="none" stroke="#6a6a6a" stroke-width="1.3" stroke-dasharray="6.45 6.84" stroke-dashoffset="3.22"/>
<path d="M1257.27 1154.73L1257.27 1034.27" fill="none" stroke="#6a6a6a" stroke-width="1.3" stroke-dasharray="6.49 6.89" stroke-dashoffset="3.25"/>
<path d="M1257.27 1034.27L1360.6 974.05" fill="none" stroke="#6a6a6a" stroke-width="1.3" stroke-dasharray="6.45 6.84" stroke-dashoffset="3.22"/>
<path d="M1360.6 949.95L1484.6 1022.23" fill="none" stroke="#6a6a6a" stroke-width="1.3" stroke-dasharray="6.33 6.72" stroke-dashoffset="3.16"/>
<path d="M1484.6 1022.23L1484.6 1166.77" fill="none" stroke="#6a6a6a" stroke-width="1.3" stroke-dasharray="6.37 6.77" stroke-dashoffset="3.19"/>
<path d="M1484.6 1166.77L1360.6 1239.05" fill="none" stroke="#6a6a6a" stroke-width="1.3" stroke-dasharray="6.33 6.72" stroke-dashoffset="3.16"/>
<path d="M1360.6 1239.05L1236.6 1166.77" fill="none" stroke="#6a6a6a" stroke-width="1.3" stroke-dasharray="6.33 6.72" stroke-dashoffset="3.16"/>
<path d="M1236.6 1166.77L1236.6 1022.23" fill="none" stroke="#6a6a6a" stroke-width="1.3" stroke-dasharray="6.37 6.77" stroke-dashoffset="3.19"/>
<path d="M1236.6 1022.23L1360.6 949.95" fill="none" stroke="#6a6a6a" stroke-width="1.3" stroke-dasharray="6.33 6.72" stroke-dashoffset="3.16"/>
<path d="M1360.6 925.86L1505.27 1010.18" fill="none" stroke="#6a6a6a" stroke-width="1.3" stroke-dasharray="6.25 6.63" stroke-dashoffset="3.12"/>
<path d="M1505.27 1010.18L1505.27 1178.82" fill="none" stroke="#6a6a6a" stroke-width="1.3" stroke-dasharray="6.29 6.68" stroke-dashoffset="3.15"/>
<path d="M1505.27 1178.82L1360.6 1263.14" fill="none" stroke="#6a6a6a" stroke-width="1.3" stroke-dasharray="6.25 6.63" stroke-dashoffset="3.12"/>
<path d="M1360.6 1263.14L1215.93 1178.82" fill="none" stroke="#6a6a6a" stroke-width="1.3" stroke-dasharray="6.25 6.63" stroke-dashoffset="3.12"/>
<path d="M1215.93 1178.82L1215.93 1010.18" fill="none" stroke="#6a6a6a" stroke-width="1.3" stroke-dasharray="6.29 6.68" stroke-dashoffset="3.15"/>
<path d="M1215.93 1010.18L1360.6 925.86" fill="none" stroke="#6a6a6a" stroke-width="1.3" stroke-dasharray="6.25 6.63" stroke-dashoffset="3.12"/>
<path d="M1360.6 901.77L1525.93 998.14" fill="none" stroke="#6a6a6a" stroke-width="1.3" stroke-dasharray="6.19 6.57" stroke-dashoffset="3.09"/>
<path d="M1525.93 998.14L1525.93 1190.86" fill="none" stroke="#6a6a6a" stroke-width="1.3" stroke-dasharray="6.23 6.62" stroke-dashoffset="3.12"/>
<path d="M1525.93 1190.86L1360.6 1287.23" fill="none" stroke="#6a6a6a" stroke-width="1.3" stroke-dasharray="6.19 6.57" stroke-dashoffset="3.09"/>
<path d="M1360.6 1287.23L1195.27 1190.86" fill="none" stroke="#6a6a6a" stroke-width="1.3" stroke-dasharray="6.19 6.57" stroke-dashoffset="3.09"/>
<path d="M1195.27 1190.86L1195.27 998.14" fill="none" stroke="#6a6a6a" stroke-width="1.3" stroke-dasharray="6.23 6.62" stroke-dashoffset="3.12"/>
<path d="M1195.27 998.14L1360.6 901.77" fill="none" stroke="#6a6a6a" stroke-width="1.3" stroke-dasharray="6.19 6.57" stroke-dashoffset="3.09"/>
<path d="M1360.6 877.68L1546.6 986.09" fill="none" stroke="#6a6a6a" stroke-width="1.3" stroke-dasharray="6.14 6.52" stroke-dashoffset="3.07"/>
<path d="M1546.6 986.09L1546.6 1202.91" fill="none" stroke="#6a6a6a" stroke-width="1.3" stroke-dasharray="6.19 6.57" stroke-dashoffset="3.09"/>
<path d="M1546.6 1202.91L1360.6 1311.32" fill="none" stroke="#6a6a6a" stroke-width="1.3" stroke-dasharray="6.14 6.52" stroke-dashoffset="3.07"/>
<path d="M1360.6 1311.32L1174.6 1202.91" fill="none" stroke="#6a6a6a" stroke-width="1.3" stroke-dasharray="6.14 6.52" stroke-dashoffset="3.07"/>
<path d="M1174.6 1202.91L1174.6 986.09" fill="none" stroke="#6a6a6a" stroke-width="1.3" stroke-dasharray="6.19 6.57" stroke-dashoffset="3.09"/>
<path d="M1174.6 986.09L1360.6 877.68" fill="none" stroke="#6a6a6a" stroke-width="1.3" stroke-dasharray="6.14 6.52" stroke-dashoffset="3.07"/>
<path d="M1360.6 853.59L1567.27 974.05" fill="none" stroke="#6a6a6a" stroke-width="1.3" stroke-dasharray="6.11 6.48" stroke-dashoffset="3.05"/>
<path d="M1567.27 974.05L1567.27 1214.95" fill="none" stroke="#6a6a6a" stroke-width="1.3" stroke-dasharray="6.15 6.53" stroke-dashoffset="3.07"/>
<path d="M1567.27 1214.95L1360.6 1335.41" fill="none" stroke="#6a6a6a" stroke-width="1.3" stroke-dasharray="6.11 6.48" stroke-dashoffset="3.05"/>
<path d="M1360.6 1335.41L1153.93 1214.95" fill="none" stroke="#6a6a6a" stroke-width="1.3" stroke-dasharray="6.11 6.48" stroke-dashoffset="3.05"/>
<path d="M1153.93 1214.95L1153.93 974.05" fill="none" stroke="#6a6a6a" stroke-width="1.3" stroke-dasharray="6.15 6.53" stroke-dashoffset="3.07"/>
<path d="M1153.93 974.05L1360.6 853.59" fill="none" stroke="#6a6a6a" stroke-width="1.3" stroke-dasharray="6.11 6.48" stroke-dashoffset="3.05"/>
<path d="M1360.6 829.5L1587.93 962" fill="none" stroke="#6a6a6a" stroke-width="1.3" stroke-dasharray="6.08 6.45" stroke-dashoffset="3.04"/>
<path d="M1587.93 962L1587.93 1227" fill="none" stroke="#6a6a6a" stroke-width="1.3" stroke-dasharray="6.12 6.50" stroke-dashoffset="3.06"/>
<path d="M1587.93 1227L1360.6 1359.5" fill="none" stroke="#6a6a6a" stroke-width="1.3" stroke-dasharray="6.08 6.45" stroke-dashoffset="3.04"/>
<path d="M1360.6 1359.5L1133.27 1227" fill="none" stroke="#6a6a6a" stroke-width="1.3" stroke-dasharray="6.08 6.45" stroke-dashoffset="3.04"/>
<path d="M1133.27 1227L1133.27 962" fill="none" stroke="#6a6a6a" stroke-width="1.3" stroke-dasharray="6.12 6.50" stroke-dashoffset="3.06"/>
<path d="M1133.27 962L1360.6 829.5" fill="none" stroke="#6a6a6a" stroke-width="1.3" stroke-dasharray="6.08 6.45" stroke-dashoffset="3.04"/>
<rect x="1334.34" y="821.26" width="20.46" height="15.91" fill="#fff"/>
<line x1="1360.6" y1="1094.5" x2="1360.6" y2="829.5" stroke="#2a2a2a" stroke-width="1.3"/>
<line x1="1360.6" y1="1094.5" x2="1587.93" y2="962" stroke="#2a2a2a" stroke-width="1.3"/>
<line x1="1360.6" y1="1094.5" x2="1587.93" y2="1227" stroke="#2a2a2a" stroke-width="1.3"/>
<line x1="1360.6" y1="1094.5" x2="1360.6" y2="1359.5" stroke="#2a2a2a" stroke-width="1.3"/>
<line x1="1360.6" y1="1094.5" x2="1133.27" y2="1227" stroke="#2a2a2a" stroke-width="1.3"/>
<line x1="1360.6" y1="1094.5" x2="1133.27" y2="962" stroke="#2a2a2a" stroke-width="1.3"/>
<text transform="translate(1344.91 1101.57) scale(0.96 1)" class="t" font-size="21.6">0</text>
<text transform="translate(1345.27 1077.48) scale(0.96 1)" class="t" font-size="21.6">2</text>
<text transform="translate(1344.44 1053.39) scale(0.96 1)" class="t" font-size="21.6">4</text>
<text transform="translate(1344.75 1029.3) scale(0.96 1)" class="t" font-size="21.6">6</text>
<text transform="translate(1344.91 1005.21) scale(0.96 1)" class="t" font-size="21.6">8</text>
<text transform="translate(1334.54 981.12) scale(0.96 1)" class="t" font-size="21.6">10</text>
<text transform="translate(1334.9 957.03) scale(0.96 1)" class="t" font-size="21.6">12</text>
<text transform="translate(1334.08 932.94) scale(0.96 1)" class="t" font-size="21.6">14</text>
<text transform="translate(1334.39 908.85) scale(0.96 1)" class="t" font-size="21.6">16</text>
<text transform="translate(1334.54 884.76) scale(0.96 1)" class="t" font-size="21.6">18</text>
<text transform="translate(1334.54 860.66) scale(0.96 1)" class="t" font-size="21.6">20</text>
<text transform="translate(1334.9 836.57) scale(0.96 1)" class="t" font-size="21.6">22</text>
<path d="M1367.82 879.92L1559.01 971.2M1559.01 971.2L1367.82 879.92" fill="none" stroke="#000" stroke-width="1.0" stroke-linejoin="round"/>
<rect x="1355.2" y="871.08" width="10.8" height="10.8" fill="#000"/>
<rect x="1560.83" y="969.25" width="10.8" height="10.8" fill="#000"/>
<path d="M1368.28 956.65L1513.09 998.91M1517.91 1008.62L1465.24 1146.35M1455.26 1157.47L1367.72 1202.28M1352.61 1206.35L1157.79 1216.93M1154.13 1210.64L1260.48 1045.4M1270.82 1033.39L1354.59 959.7" fill="none" stroke="#dd0000" stroke-width="2.5" stroke-linejoin="round"/>
<circle cx="1360.6" cy="954.41" r="6.1" fill="#dd0000"/>
<circle cx="1520.77" cy="1001.15" r="6.1" fill="#dd0000"/>
<circle cx="1462.38" cy="1153.82" r="6.1" fill="#dd0000"/>
<circle cx="1360.6" cy="1205.92" r="6.1" fill="#dd0000"/>
<circle cx="1149.8" cy="1217.36" r="6.1" fill="#dd0000"/>
<circle cx="1264.81" cy="1038.67" r="6.1" fill="#dd0000"/>
<path d="M1367.73 971.92L1456.8 1029.65M1464.56 1042.75L1472.61 1151.67M1466.46 1165.29L1367.37 1240.53M1352.33 1243.69L1184.94 1203.68M1180.08 1193.92L1248.17 1038.74M1258.92 1026.67L1353.26 971.59" fill="none" stroke="#0000ff" stroke-width="2.5" stroke-linejoin="round"/>
<path d="M1360.6 958.87L1368.1 972.47L1353.1 972.47Z" fill="#0000ff"/>
<path d="M1463.93 1025.84L1471.43 1039.44L1456.43 1039.44Z" fill="#0000ff"/>
<path d="M1473.23 1151.72L1480.73 1165.32L1465.73 1165.32Z" fill="#0000ff"/>
<path d="M1360.6 1237.24L1368.1 1250.84L1353.1 1250.84Z" fill="#0000ff"/>
<path d="M1176.67 1193.27L1184.17 1206.87L1169.17 1206.87Z" fill="#0000ff"/>
<path d="M1251.58 1022.53L1259.08 1036.13L1244.08 1036.13Z" fill="#0000ff"/>
<text transform="translate(374.75 67.6) scale(0.9305 1)" class="lb" font-size="21.29">Muscle mass</text>
<text transform="translate(718.15 290.8) scale(0.9888 1)" class="lb" font-size="20.14">Knee extension PT</text>
<text transform="translate(2.95 290.9) scale(0.9791 1)" class="lb" font-size="20.28">Knee flexion PP</text>
<text transform="translate(91.45 645.5) scale(0.9894 1)" class="lb" font-size="20.14">Knee extension PP</text>
<text transform="translate(607.75 645.4) scale(0.9832 1)" class="lb" font-size="20.14">Knee flexion PT</text>
<text transform="translate(398.97 690.8) scale(0.9726 1)" class="lb" font-size="23.33">A</text>
<text transform="translate(756.56 35.9) scale(0.9830 1)" class="lb" font-size="25.32">Muscle mass</text>
<text transform="translate(1265.84 61.7) scale(1.0162 1)" class="lb" font-size="18.71">Jump height/distance</text>
<text transform="translate(1556.98 147.1) scale(0.8786 1)" class="lb" font-size="20.92">PF-V</text>
<text transform="translate(1641.68 363.1) scale(0.9308 1)" class="lb" font-size="19.85">RFD-V</text>
<text transform="translate(1556.52 579.7) scale(0.9053 1)" class="lb" font-size="20.92">TV</text>
<text transform="translate(1322.57 664.7) scale(0.9391 1)" class="lb" font-size="19.92">PF-H/L</text>
<text transform="translate(1072.17 579.6) scale(0.9238 1)" class="lb" font-size="20.38">RFD-II/L</text>
<text transform="translate(1011.8 363.1) scale(0.9354 1)" class="lb" font-size="19.69">Imp-V</text>
<text transform="translate(1077.19 147.1) scale(0.9335 1)" class="lb" font-size="20.23">Imp-II/L</text>
<text transform="translate(1329.72 690.7) scale(0.9415 1)" class="lb" font-size="23.21">B</text>
<text transform="translate(340.03 803.8) scale(1.0365 1)" class="lb" font-size="18.56">Jump height/distance</text>
<text transform="translate(680.67 950.6) scale(0.8913 1)" class="lb" font-size="20.92">PF-V</text>
<text transform="translate(680.42 1265.5) scale(0.8592 1)" class="lb" font-size="21.53">TV</text>
<text transform="translate(397.07 1411.6) scale(0.9379 1)" class="lb" font-size="20.38">PF-H/L</text>
<text transform="translate(122.99 1265.4) scale(0.8928 1)" class="lb" font-size="20.92">Imp-V</text>
<text transform="translate(103.68 950.7) scale(0.9165 1)" class="lb" font-size="20.84">Imp-H/L</text>
<text transform="translate(398.75 1455.9) scale(1.0987 1)" class="lb" font-size="22.79">C</text>
<text transform="translate(1258.32 803.3) scale(0.9946 1)" class="lb" font-size="18.99">TN-Jump height/distance</text>
<text transform="translate(1610.62 949.6) scale(0.9118 1)" class="lb" font-size="20.46">TN-PF-V</text>
<text transform="translate(1610.92 1262.7) scale(0.9075 1)" class="lb" font-size="20.61">TN-TV</text>
<text transform="translate(1313.11 1408.7) scale(0.9128 1)" class="lb" font-size="20.84">TN-PF-H/L</text>
<text transform="translate(1023.92 1262.7) scale(0.9010 1)" class="lb" font-size="20.76">TN-Imp-V</text>
<text transform="translate(1004.51 949.4) scale(0.9573 1)" class="lb" font-size="19.92">TN-Imp-H/L</text>
<text transform="translate(1329.5 1455.7) scale(1.0203 1)" class="lb" font-size="22.60">D</text>
<text transform="translate(755.79 64.3) scale(0.9449 1)" class="lr" font-size="27.52">60°</text>
<text transform="translate(756.07 92.1) scale(0.9681 1)" class="lr" font-size="26.32">180°</text>
<text transform="translate(1697.13 25.8) scale(0.9264 1)" class="lr" font-size="22.94">VSJ</text>
<text transform="translate(1696.76 53.2) scale(0.8575 1)" class="lr" font-size="25.06">HSJ</text>
<text transform="translate(1697.12 79.2) scale(0.9151 1)" class="lr" font-size="24.91">LSJ</text>
<text transform="translate(775.66 767.7) scale(0.8089 1)" class="lr" font-size="23.97">VDJ</text>
<text transform="translate(774.91 794.5) scale(0.8315 1)" class="lr" font-size="23.82">HDJ</text>
<text transform="translate(775.27 820.9) scale(0.8347 1)" class="lr" font-size="25.04">LDJ</text>
<text transform="translate(1705.96 768.2) scale(0.7538 1)" class="lr" font-size="25.65">VDJ</text>
<text transform="translate(1705.61 794.3) scale(0.7943 1)" class="lr" font-size="24.58">HDJ</text>
<text transform="translate(1705.78 820.3) scale(0.8644 1)" class="lr" font-size="23.97">LDJ</text>
<text transform="translate(807.2 65.98) scale(1.2414 1)" class="lr" font-size="31.64">/</text>
<text transform="translate(819.5 64.06) scale(1.2665 1)" class="lr" font-size="23.75">s</text>
<text transform="translate(820.1 93.78) scale(1.2072 1)" class="lr" font-size="31.64">/</text>
<text transform="translate(831.72 92.04) scale(1.2488 1)" class="lr" font-size="25.62">s</text>
<rect x="691" y="8.9" width="203.1" height="89.8" fill="none" stroke="#1a1a1a" stroke-width="1.4"/>
<line x1="693.5" y1="25.5" x2="711" y2="25.5" stroke="#000" stroke-width="1.1" stroke-linecap="butt"/>
<line x1="726.6" y1="25.5" x2="744.5" y2="25.5" stroke="#000" stroke-width="1.1" stroke-linecap="butt"/>
<rect x="713.4" y="20.2" width="10.8" height="10.8" fill="#000"/>
<line x1="693.5" y1="55.4" x2="711" y2="55.4" stroke="#dd0000" stroke-width="2.5" stroke-linecap="round"/>
<line x1="726.6" y1="55.4" x2="744.5" y2="55.4" stroke="#dd0000" stroke-width="2.5" stroke-linecap="round"/>
<circle cx="718.8" cy="55.4" r="6.1" fill="#dd0000"/>
<line x1="693.5" y1="83.3" x2="711" y2="83.3" stroke="#0000ff" stroke-width="2.5" stroke-linecap="round"/>
<line x1="726.6" y1="83.3" x2="744.5" y2="83.3" stroke="#0000ff" stroke-width="2.5" stroke-linecap="round"/>
<path d="M718.8 74.87L726.3 88.47L711.3 88.47Z" fill="#0000ff"/>
<rect x="1635.6" y="3.7" width="100.2" height="82" fill="none" stroke="#1a1a1a" stroke-width="1.4"/>
<line x1="1638.1" y1="18.5" x2="1653.9" y2="18.5" stroke="#000" stroke-width="1.1" stroke-linecap="butt"/>
<line x1="1669.4" y1="18.5" x2="1685.7" y2="18.5" stroke="#000" stroke-width="1.1" stroke-linecap="butt"/>
<rect x="1656.2" y="13.1" width="10.8" height="10.8" fill="#000"/>
<line x1="1638.1" y1="44.5" x2="1653.9" y2="44.5" stroke="#dd0000" stroke-width="2.5" stroke-linecap="round"/>
<line x1="1669.4" y1="44.5" x2="1685.7" y2="44.5" stroke="#dd0000" stroke-width="2.5" stroke-linecap="round"/>
<circle cx="1661.6" cy="44.5" r="6.1" fill="#dd0000"/>
<line x1="1638.1" y1="70.5" x2="1653.9" y2="70.5" stroke="#0000ff" stroke-width="2.5" stroke-linecap="round"/>
<line x1="1669.4" y1="70.5" x2="1685.7" y2="70.5" stroke="#0000ff" stroke-width="2.5" stroke-linecap="round"/>
<path d="M1661.6 62.07L1669.1 75.67L1654.1 75.67Z" fill="#0000ff"/>
<rect x="713.3" y="745" width="100.5" height="81.9" fill="none" stroke="#1a1a1a" stroke-width="1.4"/>
<line x1="716" y1="759.5" x2="731.8" y2="759.5" stroke="#000" stroke-width="1.1" stroke-linecap="butt"/>
<line x1="747.6" y1="759.5" x2="763.1" y2="759.5" stroke="#000" stroke-width="1.1" stroke-linecap="butt"/>
<rect x="734.3" y="754.1" width="10.8" height="10.8" fill="#000"/>
<line x1="716" y1="786.2" x2="731.8" y2="786.2" stroke="#dd0000" stroke-width="2.5" stroke-linecap="round"/>
<line x1="747.6" y1="786.2" x2="763.1" y2="786.2" stroke="#dd0000" stroke-width="2.5" stroke-linecap="round"/>
<circle cx="739.7" cy="786.2" r="6.1" fill="#dd0000"/>
<line x1="716" y1="812.7" x2="731.8" y2="812.7" stroke="#0000ff" stroke-width="2.5" stroke-linecap="round"/>
<line x1="747.6" y1="812.7" x2="763.1" y2="812.7" stroke="#0000ff" stroke-width="2.5" stroke-linecap="round"/>
<path d="M739.7 804.27L747.2 817.87L732.2 817.87Z" fill="#0000ff"/>
<rect x="1644.1" y="745" width="100.3" height="81.5" fill="none" stroke="#1a1a1a" stroke-width="1.4"/>
<line x1="1646.4" y1="759.5" x2="1662.2" y2="759.5" stroke="#000" stroke-width="1.1" stroke-linecap="butt"/>
<line x1="1678" y1="759.5" x2="1693.7" y2="759.5" stroke="#000" stroke-width="1.1" stroke-linecap="butt"/>
<rect x="1664.9" y="753.9" width="10.8" height="10.8" fill="#000"/>
<line x1="1646.4" y1="785.9" x2="1662.2" y2="785.9" stroke="#dd0000" stroke-width="2.5" stroke-linecap="round"/>
<line x1="1678" y1="785.9" x2="1693.7" y2="785.9" stroke="#dd0000" stroke-width="2.5" stroke-linecap="round"/>
<circle cx="1670.3" cy="785.9" r="6.1" fill="#dd0000"/>
<line x1="1646.4" y1="812.1" x2="1662.2" y2="812.1" stroke="#0000ff" stroke-width="2.5" stroke-linecap="round"/>
<line x1="1678" y1="812.1" x2="1693.7" y2="812.1" stroke="#0000ff" stroke-width="2.5" stroke-linecap="round"/>
<path d="M1670.3 803.67L1677.8 817.27L1662.8 817.27Z" fill="#0000ff"/>
</svg>
</body></html>
